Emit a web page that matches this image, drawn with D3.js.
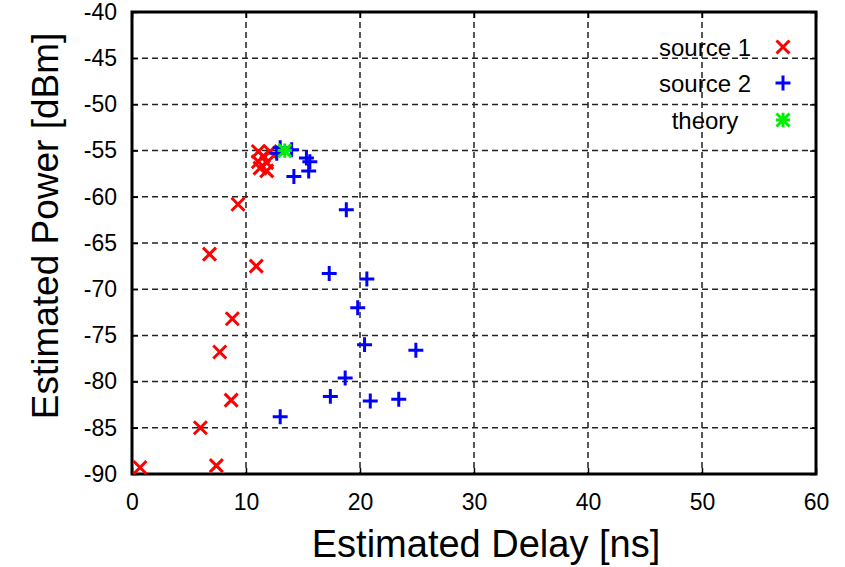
<!DOCTYPE html>
<html>
<head>
<meta charset="utf-8">
<script src="https://cdn.jsdelivr.net/npm/d3@7"></script>
<style>
  html, body { margin: 0; padding: 0; background: #fff; }
  svg { display: block; font-family: "Liberation Sans", Arial, Helvetica, sans-serif; }
</style>
</head>
<body>
<svg id="chart" width="845" height="567"></svg>
<script>
// Source 1 estimates: delay [ns] and power [dBm]
const source1Delay = [0.7, 7.4, 6.0, 8.7, 8.8, 7.7, 6.8, 10.9, 9.3,
                      11.08, 11.52, 11.08, 11.82, 11.23, 11.82, 12.11];
const source1Power = [-89.3, -89.1, -85.0, -82.0, -73.2, -76.8, -66.2, -67.5, -60.8,
                      -55.1, -55.6, -56.2, -56.3, -56.9, -57.2, -55.1];

// Source 2 estimates
const source2Delay = [18.8, 17.3, 20.6, 19.8, 20.4, 24.9, 18.7, 17.4, 20.9, 23.4, 13.0,
                      12.7, 13.0, 14.0, 15.3, 15.6, 15.5, 14.2];
const source2Power = [-61.4, -68.3, -68.9, -72.0, -76.0, -76.6, -79.6, -81.6, -82.1, -81.9, -83.8,
                      -55.3, -54.7, -54.9, -55.8, -56.2, -57.2, -57.8];

// Theoretical value
const theoryDelay = [13.4];
const theoryPower = [-55.0];

const xTicks = [0, 10, 20, 30, 40, 50, 60];
const yTicks = [-40, -45, -50, -55, -60, -65, -70, -75, -80, -85, -90];

const seriesNames = ["source 1", "source 2", "theory"];
const seriesColors = ["#ff0000", "#0000ff", "#00ee00"];
const seriesShapes = ["cross", "plus", "star"];

const svg = d3.select("#chart");
const plot = { left: 132, right: 816, top: 12, bottom: 474 };

const x = d3.scaleLinear().domain([0, 60]).range([plot.left, plot.right]);
const y = d3.scaleLinear().domain([-90, -40]).range([plot.bottom, plot.top]);

// Dashed grid at interior ticks
const grid = svg.append("g").attr("stroke", "#222").attr("stroke-width", 1.5)
  .attr("stroke-dasharray", "6,4");
grid.selectAll("line.vx").data(xTicks.slice(1, -1)).join("line")
  .attr("x1", d => x(d)).attr("x2", d => x(d))
  .attr("y1", plot.top).attr("y2", plot.bottom);
grid.selectAll("line.hy").data(yTicks.slice(1, -1)).join("line")
  .attr("x1", plot.left).attr("x2", plot.right)
  .attr("y1", d => y(d)).attr("y2", d => y(d));

// Axes with inward ticks on all four sides; plain hyphen for negatives
const fmt = d => String(d);
const tickLen = 6;
const axB = d3.axisBottom(x).tickValues(xTicks).tickSize(-tickLen).tickPadding(20).tickFormat(fmt);
const axT = d3.axisTop(x).tickValues(xTicks).tickSize(-tickLen).tickFormat("");
const axL = d3.axisLeft(y).tickValues(yTicks).tickSize(-tickLen).tickPadding(15).tickFormat(fmt);
const axR = d3.axisRight(y).tickValues(yTicks).tickSize(-tickLen).tickFormat("");

function styleAxis(g) {
  g.select(".domain").remove();
  g.selectAll(".tick line").attr("stroke", "#000").attr("stroke-width", 1.5);
  g.selectAll(".tick text").attr("fill", "#000").attr("font-size", 23)
    .attr("font-family", "'Liberation Sans', Arial, sans-serif");
}
svg.append("g").attr("transform", `translate(0,${plot.bottom})`).call(axB).call(styleAxis)
  .selectAll(".tick text").attr("dy", "0.71em");
svg.append("g").attr("transform", `translate(0,${plot.top})`).call(axT).call(styleAxis);
svg.append("g").attr("transform", `translate(${plot.left},0)`).call(axL).call(styleAxis);
svg.append("g").attr("transform", `translate(${plot.right},0)`).call(axR).call(styleAxis);

// Frame
svg.append("rect")
  .attr("x", plot.left).attr("y", plot.top)
  .attr("width", plot.right - plot.left).attr("height", plot.bottom - plot.top)
  .attr("fill", "none").attr("stroke", "#000").attr("stroke-width", 3);

// Point symbols
function markerPath(shape, s) {
  const p = d3.path();
  if (shape === "cross") {
    p.moveTo(-s, -s); p.lineTo(s, s);
    p.moveTo(-s, s); p.lineTo(s, -s);
  } else if (shape === "plus") {
    p.moveTo(-s * 1.15, 0); p.lineTo(s * 1.15, 0);
    p.moveTo(0, -s * 1.15); p.lineTo(0, s * 1.15);
  } else {
    p.moveTo(-s, -s); p.lineTo(s, s);
    p.moveTo(-s, s); p.lineTo(s, -s);
    p.moveTo(-s * 1.1, 0); p.lineTo(s * 1.1, 0);
    p.moveTo(0, -s * 1.1); p.lineTo(0, s * 1.1);
  }
  return p.toString();
}

const series = [
  { xs: source1Delay, ys: source1Power },
  { xs: source2Delay, ys: source2Power },
  { xs: theoryDelay, ys: theoryPower }
];

series.forEach((s, i) => {
  const pts = s.xs.map((d, j) => [d, s.ys[j]]);
  svg.append("g").selectAll("path").data(pts).join("path")
    .attr("transform", d => `translate(${x(d[0])},${y(d[1])})`)
    .attr("d", markerPath(seriesShapes[i], 6.5))
    .attr("fill", "none")
    .attr("stroke", seriesColors[i])
    .attr("stroke-width", 3);
});

// Legend
const legendRows = [47, 83, 120];
const legend = svg.append("g");
seriesNames.forEach((name, i) => {
  legend.append("text")
    .attr("x", 705).attr("y", legendRows[i])
    .attr("dy", "0.36em")
    .attr("text-anchor", "middle")
    .attr("font-size", 24)
    .attr("fill", "#000")
    .text(name);
  legend.append("path")
    .attr("transform", `translate(783,${legendRows[i]})`)
    .attr("d", markerPath(seriesShapes[i], 6.5))
    .attr("fill", "none")
    .attr("stroke", seriesColors[i])
    .attr("stroke-width", 3);
});

// Axis titles
svg.append("text")
  .attr("x", 486).attr("y", 557)
  .attr("text-anchor", "middle")
  .attr("font-size", 38)
  .attr("fill", "#000")
  .text("Estimated Delay [ns]");

svg.append("text")
  .attr("transform", "translate(58,226) rotate(-90)")
  .attr("text-anchor", "middle")
  .attr("font-size", 37)
  .attr("fill", "#000")
  .text("Estimated Power [dBm]");
</script>
</body>
</html>
